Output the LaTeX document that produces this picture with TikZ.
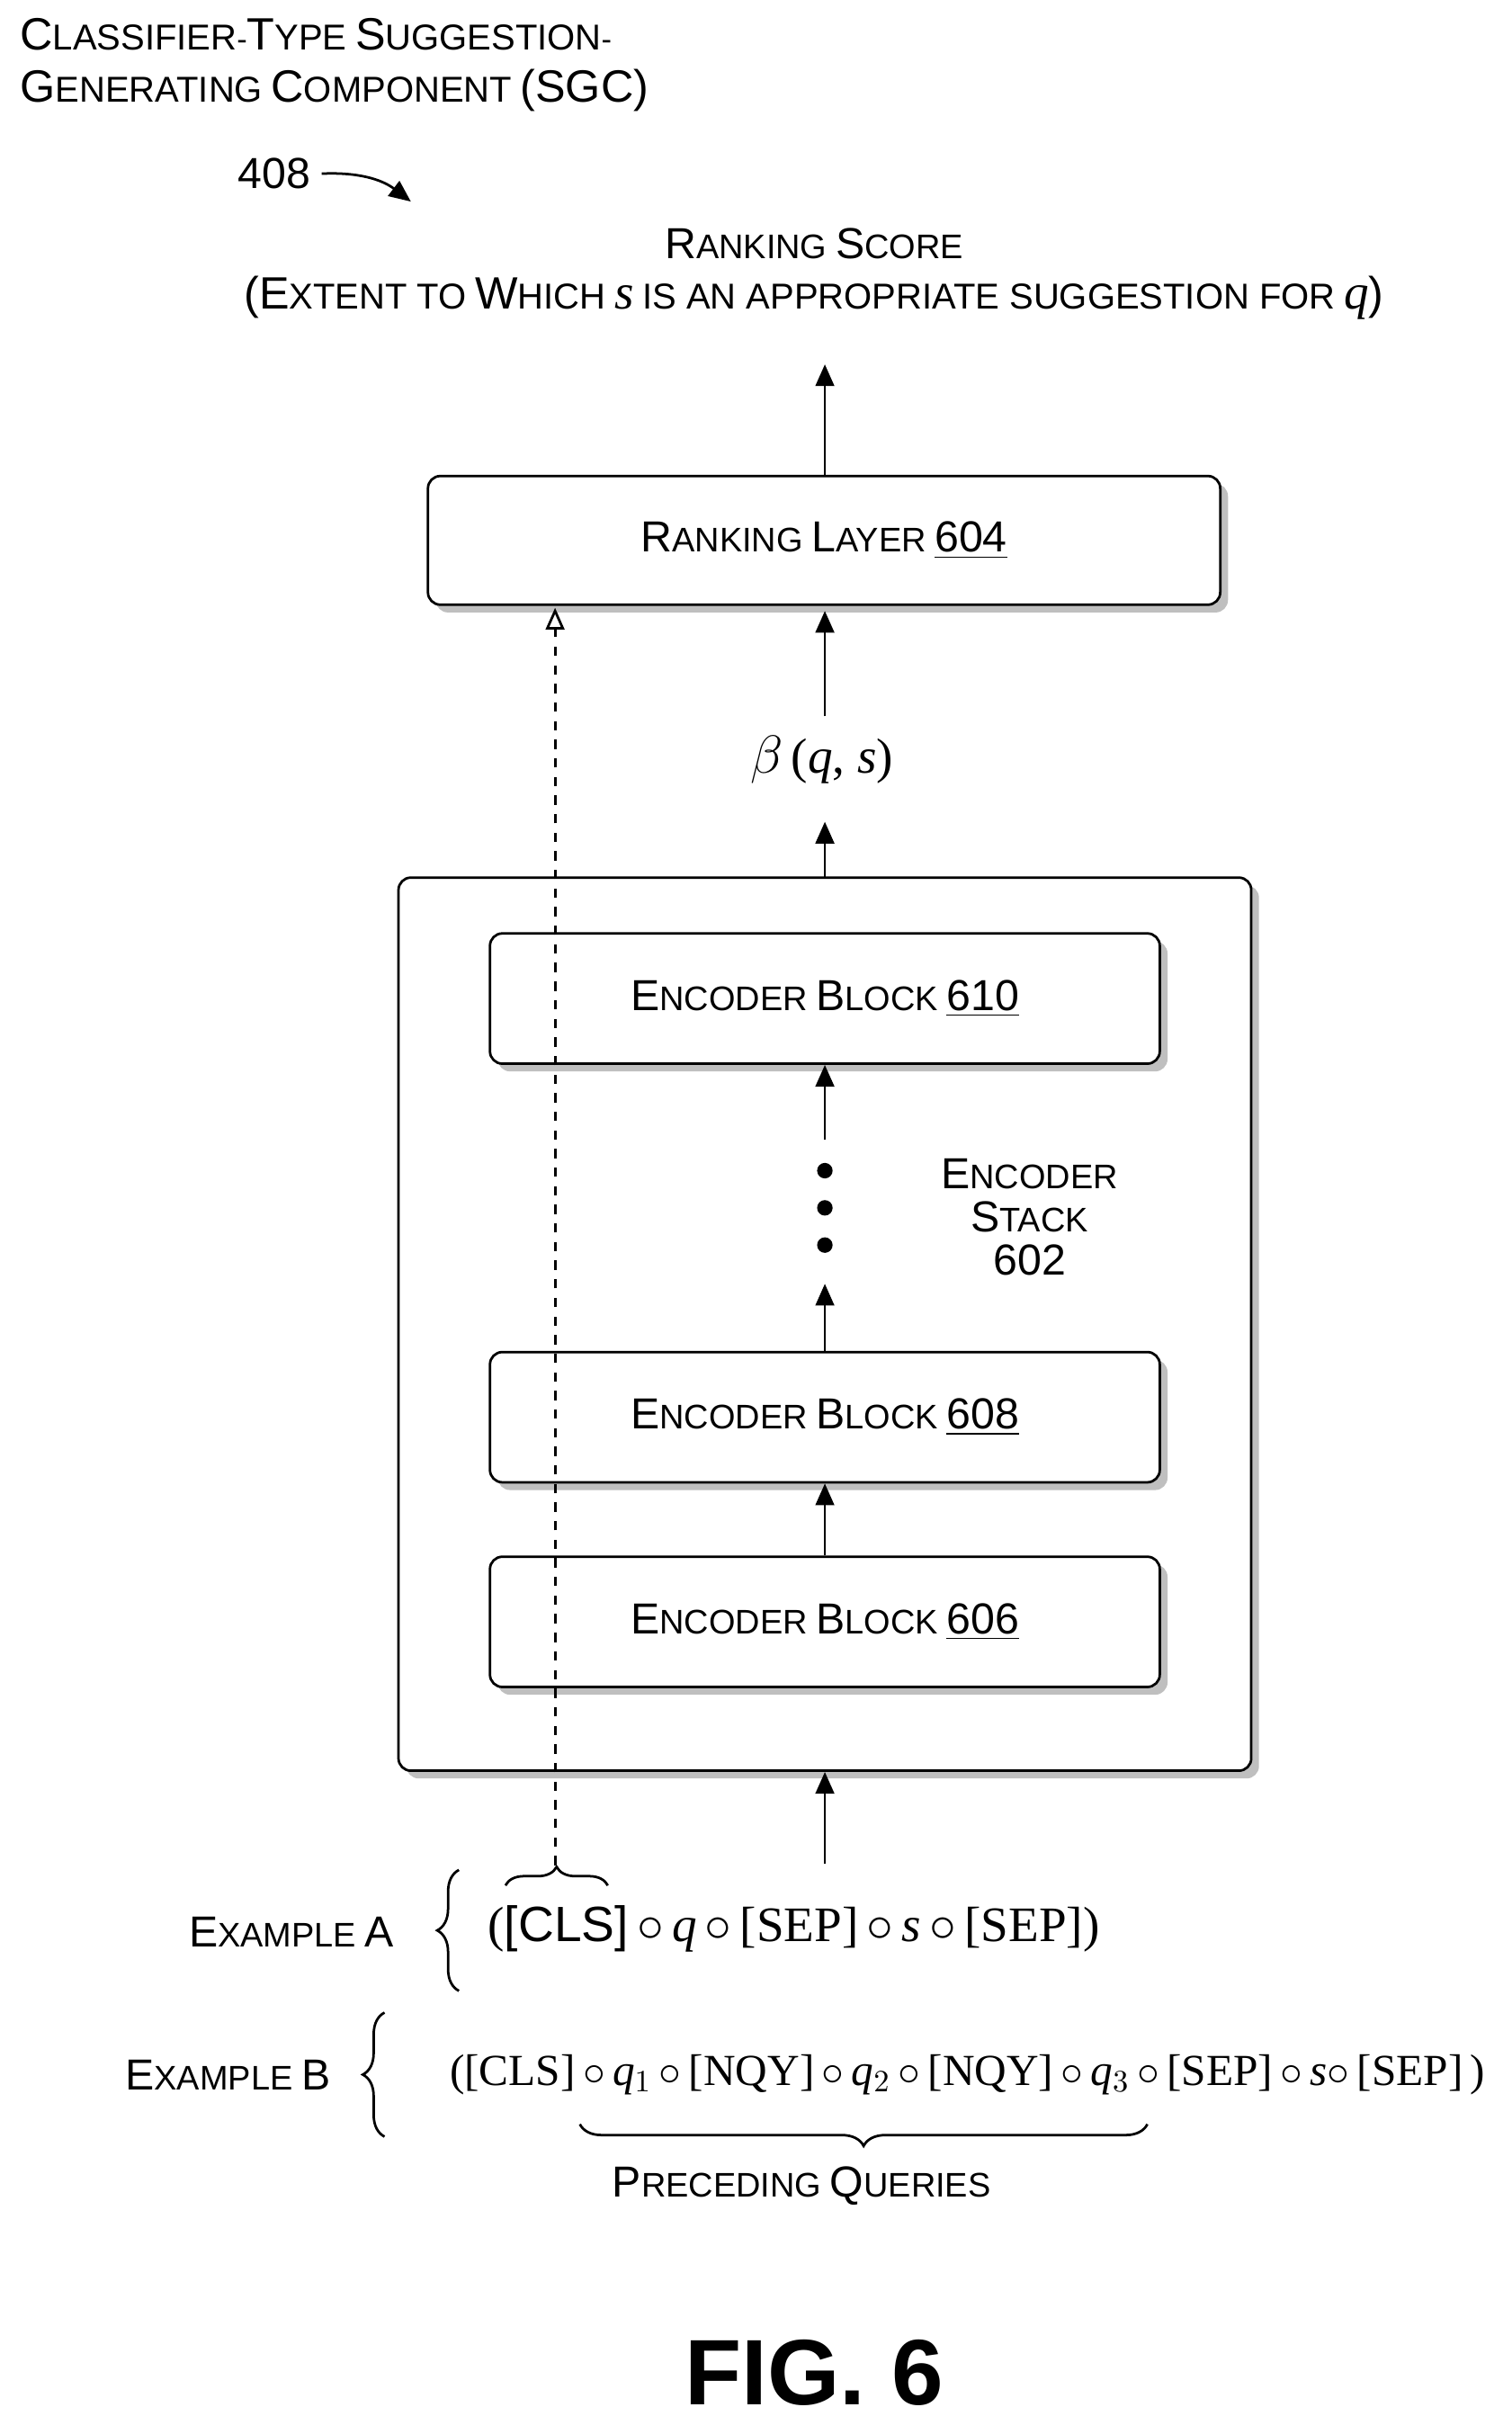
\documentclass[tikz,border=0pt]{standalone}
\usepackage{fontspec}
\setmainfont{Liberation Sans}
\newfontfamily\serif{Liberation Serif}
\newfontfamily\sansf{Liberation Sans}
\usetikzlibrary{shadows,decorations.pathreplacing,arrows.meta}
\newcommand{\Sc}[2]{{\fontsize{14}{16}\selectfont #1}{\fontsize{11}{13}\selectfont #2}}
\newcommand{\Sd}[2]{{\fontsize{14.6}{16}\selectfont #1}{\fontsize{11.6}{13}\selectfont #2}}
\begin{document}
\begin{tikzpicture}[x=0.5pt,y=-0.5pt,
 blk/.style={draw,thick,rounded corners=4pt,fill=white,drop shadow={shadow xshift=2.5pt,shadow yshift=-2.5pt,fill=black!50}},
 arr/.style={thick,-{Triangle[length=7pt,width=6pt]}}]
\useasboundingbox (0,0) rectangle (975,1564);
\node[anchor=west,align=left] (t1) at (6,22) {\Sd{C}{LASSIFIER}-\Sd{T}{YPE} \Sd{S}{UGGESTION}-};
\node[anchor=west,align=left] (t2) at (6,58) {\Sd{G}{ENERATING} \Sd{C}{OMPONENT} \Sd{(SGC)}{}};
\node (n408) at (177,112) {\Sc{408}{}};
\coordinate (a408) at (265,130);
\draw[arr] (n408.east) to[bend left=20] (a408);
\node (rs) at (525,157) {\Sc{R}{ANKING} \Sc{S}{CORE}};
\node (rs2) at (525,192) {\Sd{(E}{XTENT TO} \Sd{W}{HICH} {\serif\itshape\fontsize{16}{16}\selectfont s} {\fontsize{11.6}{13}\selectfont IS AN APPROPRIATE SUGGESTION FOR} {\serif\itshape\fontsize{16}{16}\selectfont q}\Sd{)}{}};
\coordinate (rstop) at (532,235);
\node[blk,minimum width=255.5pt,minimum height=41.5pt] (rl) at (531.5,348.5) {\Sc{R}{ANKING} \Sc{L}{AYER} \Sc{\underline{604}}{}};
\draw[arr] (rl.north -| rstop) -- (rstop);
\node (beta) at (530,490) {\serif\fontsize{16}{18}\selectfont $\beta$\,(\textit{q}, \textit{s})};
\draw[arr] (532,462) -- (532,394);
\node[blk,minimum width=275pt,minimum height=288pt] (es) at (532,854) {};
\draw[arr] (532,566) -- (532,530);
\node[blk,minimum width=216pt,minimum height=42pt] (b610) at (532,644) {\Sc{E}{NCODER} \Sc{B}{LOCK} \Sc{\underline{610}}{}};
\node[blk,minimum width=216pt,minimum height=42pt] (b608) at (532,914) {\Sc{E}{NCODER} \Sc{B}{LOCK} \Sc{\underline{608}}{}};
\node[blk,minimum width=216pt,minimum height=42pt] (b606) at (532,1046) {\Sc{E}{NCODER} \Sc{B}{LOCK} \Sc{\underline{606}}{}};
\node[align=center] (est) at (664,785) {\Sc{E}{NCODER}\\[2pt]\Sc{S}{TACK}\\[2pt]\Sc{602}{}};
\coordinate (d1) at (532,735);
\draw[arr] (d1) -- (b610.south);
\foreach \y in {755,779,803} \fill (532,\y) circle (2.5pt);
\draw[arr] (b608.north) -- (532,828);
\draw[arr] (b606.north) -- (b608.south);
\draw[arr] (532,1202) -- (es.south);
\draw[thick,dashed,-{Triangle[open,length=7pt,width=6pt]}] (358,1203) -- (358,392);
\draw[thick,decorate,decoration={brace,amplitude=6pt}] (326,1216) -- (392,1216);
\node (exa) at (188,1246) {\Sc{E}{XAMPLE} \Sc{A}{}};
\draw[thick,decorate,decoration={brace,amplitude=7pt}] (296,1284) -- (296,1206);
\node (fa) at (512,1244) {\serif\fontsize{16}{19}\selectfont ({\sansf [CLS]}\,$\circ$\,\textit{q}\,$\circ$\,[SEP]\,$\circ$\,\textit{s}\,$\circ$\,[SEP])};
\node (exb) at (147,1338) {\Sc{E}{XAMPLE} \Sc{B}{}};
\draw[thick,decorate,decoration={brace,amplitude=7pt}] (248,1378) -- (248,1298);
\node (fb) at (624,1338) {\serif\fontsize{14.3}{16}\selectfont ([CLS]\,$\circ$\,\textit{q}$_1$\,$\circ$\,[NQY]\,$\circ$\,\textit{q}$_2$\,$\circ$\,[NQY]\,$\circ$\,\textit{q}$_3$\,$\circ$\,[SEP]\,$\circ$\,\textit{s}$\circ$\,[SEP]\,)};
\draw[thick,decorate,decoration={brace,amplitude=7pt,mirror}] (374,1370) -- (740,1370);
\node (pq) at (517,1410) {\Sc{P}{RECEDING} \Sc{Q}{UERIES}};
\node (fig) at (525,1530) {\fontsize{30}{34}\selectfont\bfseries FIG. 6};
\end{tikzpicture}
\end{document}
